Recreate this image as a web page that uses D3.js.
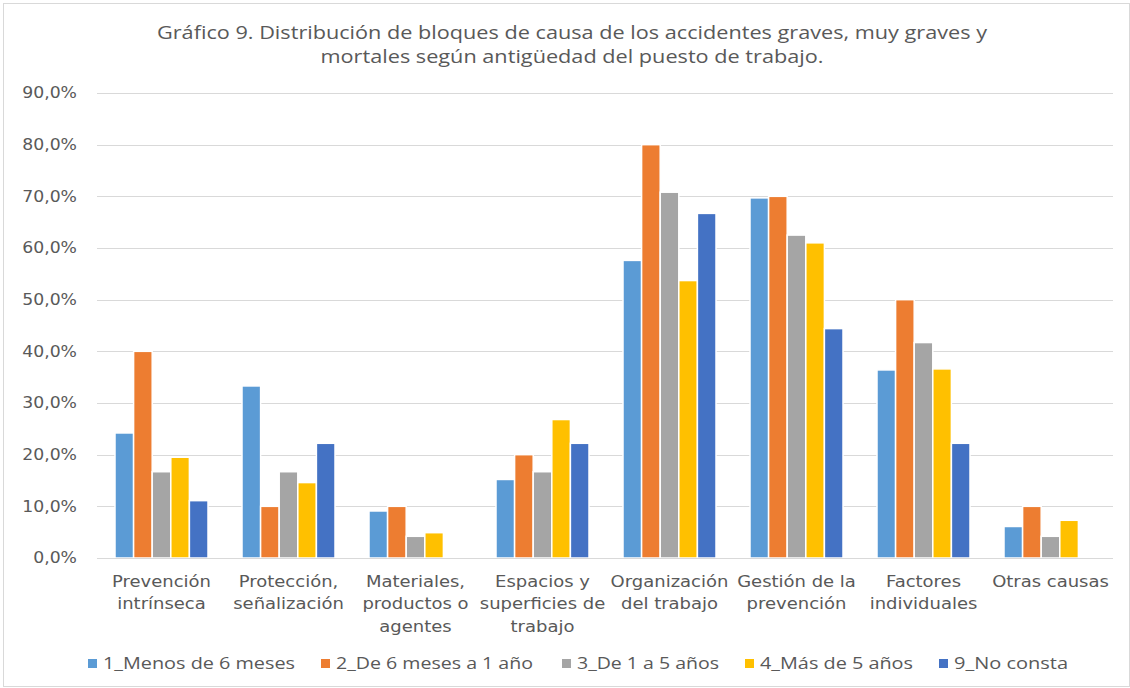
<!DOCTYPE html>
<html>
    <head>
        <meta charset="utf-8">
        <title>Gráfico 9</title>
        <style>
body {
    margin: 0;
    background-color: white;
}

svg {
    display: block;
    background-color: white;
}

.title {
    font-family: 'Open Sans', sans-serif;
    font-size: 18px;
    fill: #595959;
    text-anchor: middle;
}

.tick-label {
    font-family: 'DejaVu Sans', sans-serif;
    font-size: 15px;
    fill: #595959;
}

.legend-label {
    font-family: 'Open Sans', sans-serif;
    font-size: 16px;
    fill: #595959;
}

.grid line {
    stroke: #d9d9d9;
    stroke-width: 1;
}
        </style>
        <script src="https://cdn.jsdelivr.net/npm/d3@7"></script>
    </head>
    <body>
        <script>
// categories (labels already split in lines like the original)
var categories = [
    ["Prevención", "intrínseca"],
    ["Protección,", "señalización"],
    ["Materiales,", "productos o", "agentes"],
    ["Espacios y", "superficies de", "trabajo"],
    ["Organización", "del trabajo"],
    ["Gestión de la", "prevención"],
    ["Factores", "individuales"],
    ["Otras causas"]
];

var seriesNames = ["1_Menos de 6 meses", "2_De 6 meses a 1 año", "3_De 1 a 5 años", "4_Más de 5 años", "9_No consta"];
var seriesColors = ["#5b9bd5", "#ed7d31", "#a5a5a5", "#ffc000", "#4472c4"];

// values in %, one array per series, same order as categories
var menos6meses  = [24.2, 33.3, 9.1, 15.2, 57.6, 69.7, 36.4, 6.1];
var de6mesesA1   = [40.0, 10.0, 10.0, 20.0, 80.0, 70.0, 50.0, 10.0];
var de1a5        = [16.7, 16.7, 4.2, 16.7, 70.8, 62.5, 41.7, 4.2];
var mas5         = [19.5, 14.6, 4.9, 26.8, 53.7, 61.0, 36.6, 7.3];
var noConsta     = [11.1, 22.2, 0.0, 22.2, 66.7, 44.4, 22.2, 0.0];

var seriesValues = [menos6meses, de6mesesA1, de1a5, mas5, noConsta];

var yTicks = [0, 10, 20, 30, 40, 50, 60, 70, 80, 90];

var titleLines = [
    "Gráfico 9. Distribución de bloques de causa de los accidentes graves, muy graves y",
    "mortales según antigüedad del puesto de trabajo."
];

var width = 1130,
    height = 688;

var svg = d3.select('body')
    .append('svg')
    .attr('width', width)
    .attr('height', height);

// outer chart border
svg.append("rect")
    .attr("x", 3.5)
    .attr("y", 3.5)
    .attr("width", width - 4)
    .attr("height", height - 5)
    .attr("fill", "white")
    .attr("stroke", "#d9d9d9");

var catIndex = d3.range(categories.length);

var x0 = d3.scaleBand()
    .domain(catIndex)
    .range([98, 1114]);

var x1 = d3.scaleBand()
    .domain(d3.range(seriesNames.length))
    .range([17, x0.bandwidth() - 17]);

var y = d3.scaleLinear()
    .domain([0, 90])
    .range([558, 93]);

// title
svg.selectAll(".title")
    .data(titleLines)
    .enter().append("text")
    .attr("class", "title")
    .attr("x", 572)
    .attr("y", function (d, i) { return 39 + i * 24; })
    .attr("textLength", function (d, i) { return i == 0 ? 830 : 503; })
    .attr("lengthAdjust", "spacingAndGlyphs")
    .text(function (d) { return d; });

// gridlines
svg.append("g")
    .attr("class", "grid")
    .selectAll("line")
    .data(yTicks)
    .enter().append("line")
    .attr("x1", 97)
    .attr("x2", 1113)
    .attr("y1", function (d) { return Math.round(y(d)) + 0.5; })
    .attr("y2", function (d) { return Math.round(y(d)) + 0.5; });

// y axis labels
var yAxis = d3.axisLeft(y)
    .tickValues(yTicks)
    .tickSize(0)
    .tickPadding(0)
    .tickFormat(function (d) { return d.toFixed(1).replace(".", ",") + "%"; });

var yAxisG = svg.append("g")
    .attr("transform", "translate(77, 0)")
    .call(yAxis);
yAxisG.select(".domain").remove();
yAxisG.selectAll("text")
    .attr("class", "tick-label")
    .attr("font-size", null)
    .attr("font-family", null)
    .attr("fill", null)
    .attr("transform", "scale(1.15, 1)");

// bars
var groups = svg.append("g")
    .selectAll("g")
    .data(catIndex)
    .enter().append("g")
    .attr("transform", function (c) { return "translate(" + x0(c) + ", 0)"; });

groups.selectAll("rect")
    .data(function (c) {
        return seriesValues.map(function (vals, s) { return {s: s, v: vals[c]}; })
            .filter(function (d) { return d.v > 0; });
    })
    .enter().append("rect")
    .attr("x", function (d) { return x1(d.s); })
    .attr("width", x1.bandwidth())
    .attr("y", function (d) { return y(d.v); })
    .attr("height", function (d) { return y(0) - y(d.v); })
    .attr("fill", function (d) { return seriesColors[d.s]; })
    .attr("stroke", "white")
    .attr("stroke-width", 1.5);

// baseline
svg.append("line")
    .attr("x1", 97)
    .attr("x2", 1113)
    .attr("y1", Math.round(y(0)) + 0.5)
    .attr("y2", Math.round(y(0)) + 0.5)
    .attr("stroke", "#d9d9d9");

// category labels (stretched a little, like the original)
var catLabels = svg.append("g")
    .selectAll("text")
    .data(catIndex)
    .enter().append("text")
    .attr("class", "tick-label")
    .attr("text-anchor", "middle")
    .attr("transform", function (c) {
        return "translate(" + (x0(c) + x0.bandwidth() / 2) + ", 0) scale(1.2, 1)";
    });

catLabels.selectAll("tspan")
    .data(function (c) { return categories[c]; })
    .enter().append("tspan")
    .attr("x", 0)
    .attr("y", function (d, i) { return 587 + i * 22.5; })
    .text(function (d) { return d; });

// legend
var legendX = [88, 321, 562, 745, 939];
var legendW = [192, 197, 142, 153, 114];

var legend = svg.append("g")
    .selectAll("g")
    .data(seriesNames)
    .enter().append("g")
    .attr("transform", function (d, i) { return "translate(" + legendX[i] + ", 659)"; });

legend.append("rect")
    .attr("width", 9)
    .attr("height", 9)
    .attr("fill", function (d, i) { return seriesColors[i]; });

legend.append("text")
    .attr("class", "legend-label")
    .attr("x", 15)
    .attr("y", 10)
    .attr("textLength", function (d, i) { return legendW[i]; })
    .attr("lengthAdjust", "spacingAndGlyphs")
    .text(function (d) { return d; });
        </script>
    </body>
</html>
